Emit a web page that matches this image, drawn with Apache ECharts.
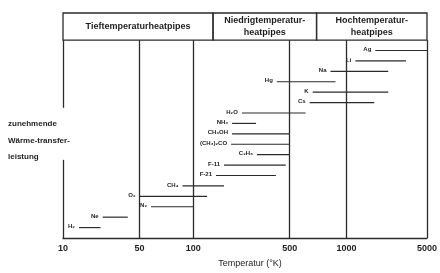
<!DOCTYPE html>
<html>
<head>
<meta charset="utf-8">
<script src="https://cdn.jsdelivr.net/npm/echarts@6/dist/echarts.min.js"></script>
<style>html,body{margin:0;padding:0;background:#fff;}#c{width:440px;height:273px;}</style>
</head>
<body>
<div id="c"></div>
<script>
// ---- data ----
const tickTemps = [10, 50, 100, 500, 1000, 5000];
const tickLabels = ['10', '50', '100', '500', '1000', '5000'];
const fluids = ['H₂', 'Ne', 'N₂', 'O₂', 'CH₄', 'F-21', 'F-11', 'C₂H₆', '(CH₃)₂CO', 'CH₃OH', 'NH₃', 'H₂O', 'Cs', 'K', 'Hg', 'Na', 'Li', 'Ag'];
const tempMin = [14, 23, 58, 50, 87, 146, 167, 289, 188, 191, 191, 225, 638, 662, 403, 823, 1196, 1780];
const tempMax = [22, 39, 100, 126, 167, 397, 468, 500, 500, 500, 285, 607, 1745, 2305, 875, 2305, 3290, 5000];
const bandNames = ['Tieftemperaturheatpipes', 'Niedrigtemperatur-\nheatpipes', 'Hochtemperatur-\nheatpipes'];
const bandEdges = [10, 139, 694, 5000];
const gridTemps = [50, 100, 500, 1000];
const yTitle = 'zunehmende\nWärme-transfer-\nleistung';
const xTitle = 'Temperatur (°K)';

// ---- axis warp (the original axis is log-like but with uneven decades) ----
const segW = [77, 54, 97, 57, 81];
const cum = [0];
segW.forEach((w, i) => cum.push(cum[i] + w));
function warp(T) {
  let i = 0;
  while (i < tickTemps.length - 2 && T > tickTemps[i + 1]) i++;
  const f = Math.log(T / tickTemps[i]) / Math.log(tickTemps[i + 1] / tickTemps[i]);
  return cum[i] + f * segW[i];
}
const X_MAX = cum[cum.length - 1];
const Y_PLOT = 19, Y_TOP = 21.6, GAP_LO = 7.5, GAP_HI = 12.5;

const lineCol = '#2b2b2b';
const txtCol = '#1e1e1e';
const ff = '"Liberation Sans", Arial, sans-serif';

const chart = echarts.init(document.getElementById('c'), null, {renderer: 'canvas'});

const vLines = [];
gridTemps.forEach(t => vLines.push([{coord: [warp(t), 0]}, {coord: [warp(t), Y_PLOT]}]));
vLines.push([{coord: [0, 0]}, {coord: [0, GAP_LO]}]);
vLines.push([{coord: [0, GAP_HI]}, {coord: [0, Y_PLOT]}]);
vLines.push([{coord: [X_MAX, 0]}, {coord: [X_MAX, Y_PLOT]}]);

const bands = bandNames.map((n, i) => [
  {name: n, xAxis: warp(bandEdges[i]), yAxis: Y_PLOT},
  {xAxis: warp(bandEdges[i + 1]), yAxis: Y_TOP}
]);

chart.setOption({
  animation: false,
  backgroundColor: '#fff',
  grid: {left: 63, right: 11, top: 13, bottom: 30},
  xAxis: {
    type: 'value', min: 0, max: X_MAX,
    axisLine: {show: true, lineStyle: {color: lineCol, width: 1.3}},
    axisTick: {show: false},
    splitLine: {show: false},
    axisLabel: {
      customValues: tickTemps.map(warp),
      formatter: v => {
        let best = 0;
        tickTemps.forEach((t, i) => { if (Math.abs(warp(t) - v) < Math.abs(warp(tickTemps[best]) - v)) best = i; });
        return tickLabels[best];
      },
      color: txtCol, fontSize: 9, fontWeight: 'bold', fontFamily: ff, margin: 6
    },
    name: xTitle, nameLocation: 'middle', nameGap: 21,
    nameTextStyle: {color: txtCol, fontSize: 9, fontFamily: ff, padding: [0, 0, 0, 10]}
  },
  yAxis: {
    type: 'value', min: 0, max: Y_TOP,
    show: false
  },
  graphic: [{
    type: 'text', left: 8, top: 116,
    style: {text: yTitle, font: 'bold 8px ' + ff, fill: txtCol, lineHeight: 16.5}
  }],
  series: [{
    type: 'custom',
    data: fluids.map((n, i) => [warp(tempMin[i]), warp(tempMax[i]), i + 1]),
    renderItem: (params, api) => {
      const y = api.value(2);
      const p0 = api.coord([api.value(0), y]);
      const p1 = api.coord([api.value(1), y]);
      return {
        type: 'group',
        children: [
          {type: 'line', shape: {x1: p0[0], y1: p0[1], x2: p1[0], y2: p1[1]}, style: {stroke: lineCol, lineWidth: 1.2}},
          {type: 'text', x: p0[0] - 4, y: p0[1] - 1, style: {text: fluids[params.dataIndex], align: 'right', verticalAlign: 'middle', font: 'bold 6px ' + ff, fill: txtCol}}
        ]
      };
    },
    markLine: {
      silent: true, symbol: ['none', 'none'],
      label: {show: false},
      lineStyle: {color: lineCol, width: 1.3, type: 'solid'},
      emphasis: {disabled: true},
      data: vLines
    },
    markArea: {
      silent: true,
      itemStyle: {color: 'rgba(0,0,0,0)', borderColor: lineCol, borderWidth: 1.3},
      label: {show: true, position: 'inside', color: txtCol, fontSize: 9, fontWeight: 'bold', fontFamily: ff, lineHeight: 12, align: 'center'},
      emphasis: {disabled: true},
      data: bands
    }
  }]
});
</script>
</body>
</html>
